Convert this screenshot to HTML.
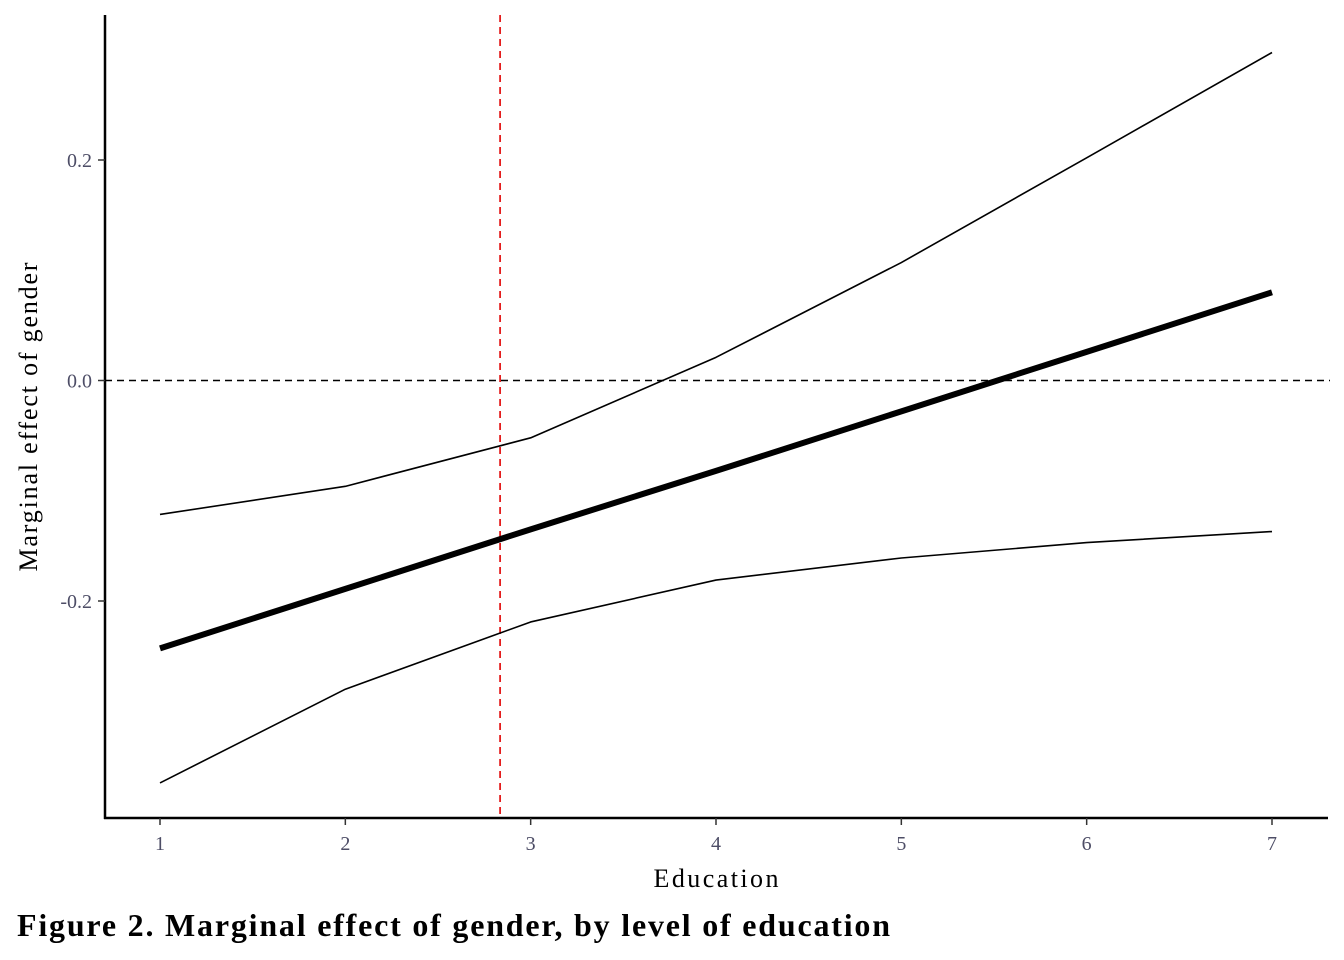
<!DOCTYPE html>
<html><head><meta charset="utf-8"><style>
html,body{margin:0;padding:0;background:#fff;width:1344px;height:960px;overflow:hidden}
svg{display:block;font-family:"Liberation Serif",serif}
</style></head><body>
<svg id="chart" width="1344" height="960">
<g id="marks"></g>
<line x1="105" y1="15" x2="105" y2="819" stroke="#000" stroke-width="2.5"/>
<line x1="104" y1="818" x2="1328" y2="818" stroke="#000" stroke-width="2.5"/>
<g id="ticks"></g>
<text x="716" y="887" font-size="26" text-anchor="middle" textLength="125" lengthAdjust="spacing">Education</text>
<text transform="translate(37,417) rotate(-90)" font-size="26" text-anchor="middle" textLength="309" lengthAdjust="spacing">Marginal effect of gender</text>
<text x="17" y="936" font-size="32" font-weight="bold" textLength="873" lengthAdjust="spacing">Figure 2. Marginal effect of gender, by level of education</text>
</svg>
<script>
const education=[1,2,3,4,5,6,7];
const effect=[-0.243,-0.189,-0.135,-0.082,-0.028,0.026,0.080];
const upper=[-0.1215,-0.096,-0.052,0.021,0.107,0.202,0.2975];
const lower=[-0.365,-0.280,-0.219,-0.181,-0.161,-0.147,-0.137];
const xTicks=[1,2,3,4,5,6,7];
const yTicks=[-0.2,0.0,0.2];
const yTickLabels=["-0.2","0.0","0.2"];
const threshold=2.835;
const zeroLine=0;
const NS="http://www.w3.org/2000/svg";
function xs(v){return 160+(v-1)*(1272-160)/6;}
function ys(v){return 380.5-v*1102.5;}
const marks=document.getElementById('marks'),ticks=document.getElementById('ticks');
function mk(tag,attrs,parent){const e=document.createElementNS(NS,tag);for(const k in attrs)e.setAttribute(k,attrs[k]);parent.appendChild(e);return e;}
let z=mk('line',{x1:105,x2:1330,y1:ys(zeroLine),y2:ys(zeroLine),stroke:'#000','stroke-width':1.6,'stroke-dasharray':'7,5'},marks);


let r=mk('line',{x1:xs(threshold),x2:xs(threshold),y1:15,y2:818,stroke:'#e00000','stroke-width':1.6,'stroke-dasharray':'7,5'},marks);


function path(arr,w,name){const d=arr.map((v,i)=>(i?'L':'M')+xs(education[i])+','+ys(v)).join(' ');
 const p=mk('path',{d:d,fill:'none',stroke:'#000','stroke-width':w,'stroke-linejoin':'round'},marks);
 
 }
path(upper,1.6,'upper-ci-line');
path(lower,1.6,'lower-ci-line');
path(effect,6,'marginal-effect-line');
xTicks.forEach(t=>{
 const l=mk('line',{x1:xs(t),x2:xs(t),y1:818,y2:825,stroke:'#333','stroke-width':1.5},ticks);
 
 
 const tx=mk('text',{x:xs(t),y:850,'font-size':20,'text-anchor':'middle',fill:'#4d4d66'},ticks);tx.textContent=t;
 
 
});
yTicks.forEach((t,i)=>{
 const l=mk('line',{x1:98,x2:105,y1:ys(t),y2:ys(t),stroke:'#333','stroke-width':1.5},ticks);
 
 
 const tx=mk('text',{x:92,y:ys(t)+7,'font-size':20,'text-anchor':'end',fill:'#4d4d66'},ticks);tx.textContent=yTickLabels[i];
 
 
});
</script>
</body></html>
